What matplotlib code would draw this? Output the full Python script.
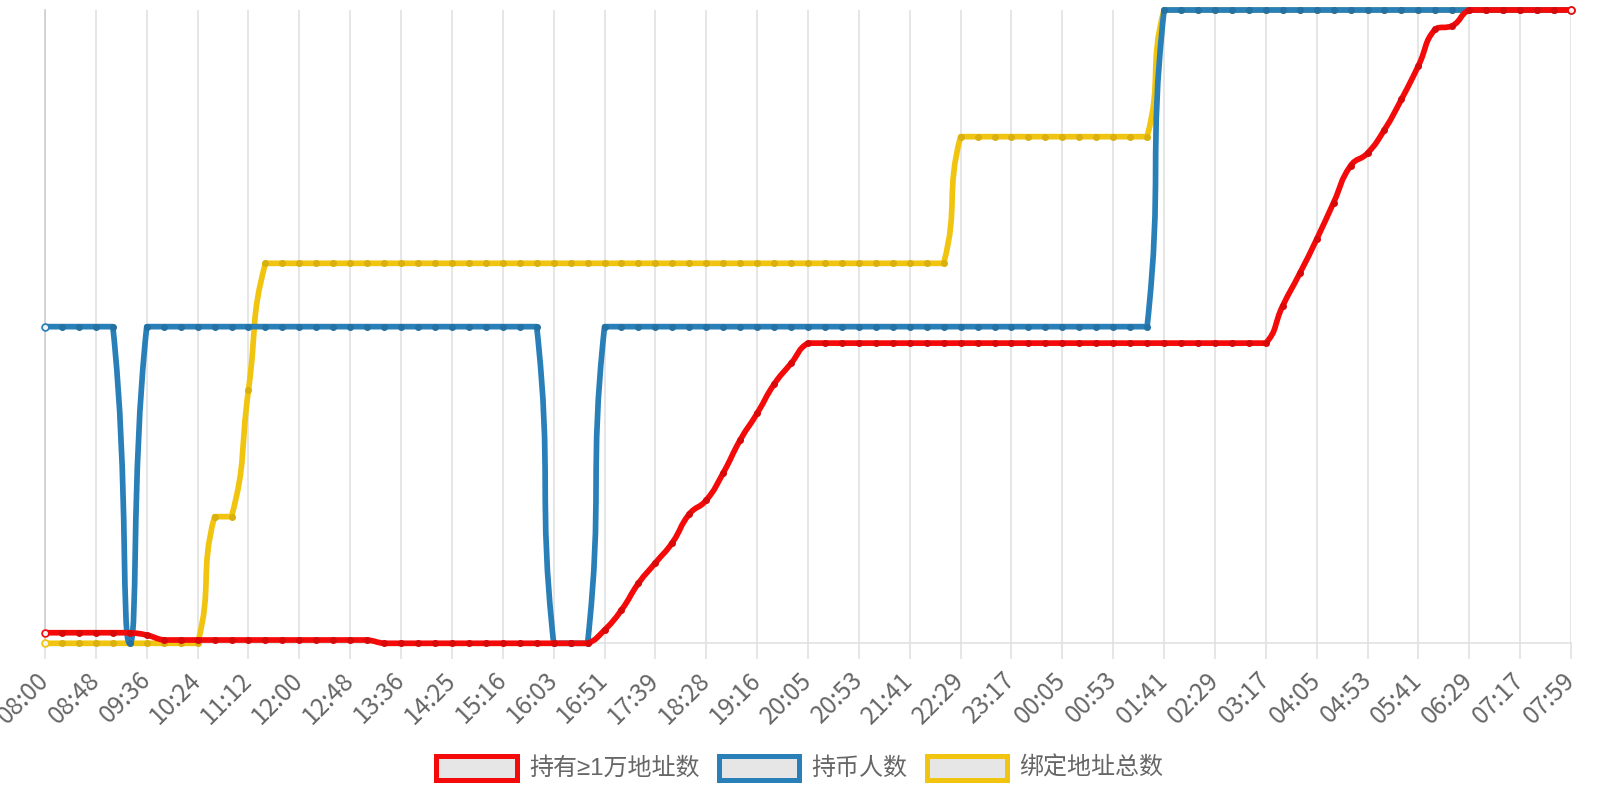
import numpy as np
import matplotlib
matplotlib.use("Agg")
import matplotlib.pyplot as plt
from matplotlib.path import Path
from matplotlib.patches import PathPatch, Rectangle

plt.rcParams['font.family'] = ['Noto Sans CJK SC', 'DejaVu Sans']

# ---------------- data ----------------
tick_labels = ["08:00", "08:48", "09:36", "10:24", "11:12", "12:00", "12:48", "13:36",
               "14:25", "15:16", "16:03", "16:51", "17:39", "18:28", "19:16", "20:05",
               "20:53", "21:41", "22:29", "23:17", "00:05", "00:53", "01:41", "02:29",
               "03:17", "04:05", "04:53", "05:41", "06:29", "07:17", "07:59"]
points_per_label = 3
n_points = 91

series_names = ["持有≥1万地址数", "持币人数", "绑定地址总数"]

holders_10k = ([1.67] * 6 + [1.3] + [0.52] * 13 + [0.0] * 13 +
               [2.1, 5.26, 9.47, 12.7, 15.9, 20.4, 22.6, 26.9, 32.1, 36.3, 40.9, 44.2] +
               [47.4] * 28 +
               [53.3, 58.4, 63.8, 69.6, 75.4, 77.4, 81.1, 85.9, 91.2, 97.0, 97.5] +
               [100.0] * 7)
holders = ([50.0] * 5 + [0.0] + [50.0] * 24 + [0.0] * 3 + [50.0] * 33 + [100.0] * 25)
bound_addr = ([0.0] * 10 + [20.0] * 2 + [40.0] + [60.0] * 41 + [80.0] * 12 + [100.0] * 25)

colors = ["#f50a0a", "#2980b9", "#f1c40f"]
dot_colors = ["#d80909", "#2471a4", "#d9b00e"]

# ---------------- figure ----------------
W, H = 1600, 800
fig = plt.figure(figsize=(16, 8), dpi=100)
left, right, top, bottom = 45, 1571, 10, 643.3
ax = fig.add_axes([left / W, 1 - bottom / H, (right - left) / W, (bottom - top) / H])
ax.set_xlim(0, n_points - 1)
ax.set_ylim(0, 100)

PX = 0.72  # points per pixel
grid_c = "#e0e0e0"
ax.set_xticks(np.arange(0, n_points, points_per_label))
ax.set_xticklabels(tick_labels)
ax.set_yticks([])
ax.grid(axis="x", color=grid_c, linewidth=1.6 * PX)
ax.tick_params(axis="x", direction="out", length=16 * PX, width=1.6 * PX,
               color=grid_c, pad=17 * PX, labelsize=24.5 * PX, labelcolor="#666666")
for lab in ax.get_xticklabels():
    lab.set_rotation(45)
    lab.set_ha("right")
    lab.set_va("center")
    lab.set_rotation_mode("anchor")
for s in ["top", "right"]:
    ax.spines[s].set_visible(False)
ax.spines["bottom"].set_color(grid_c)
ax.spines["bottom"].set_linewidth(1.6 * PX)
ax.spines["left"].set_color("#cccccc")
ax.spines["left"].set_linewidth(1.6 * PX)
ax.xaxis.get_major_ticks()[0].tick1line.set_color("#cccccc")


def clamp_box(c, a, b):
    lo = np.minimum(a, b)
    hi = np.maximum(a, b)
    return np.minimum(np.maximum(c, lo), hi)


def smooth_path(xs, ys, smooth=0.5):
    """Smoothed bezier path; each control point is kept inside its segment's box."""
    pts = ax.transData.transform(np.column_stack([xs, ys]))
    n = len(pts)
    verts = [pts[0]]
    codes = [Path.MOVETO]
    cp0 = pts[0].copy()
    for k in range(1, n):
        p = pts[k]
        prev = pts[k - 1]
        if k == n - 1:
            cp1 = p.copy()
            ncp0 = p.copy()
        else:
            nxt = pts[k + 1]
            v = nxt - prev
            lp = np.hypot(*(p - prev))
            ln = np.hypot(*(nxt - p))
            r = ln / (ln + lp)
            cp1 = clamp_box(p - v * smooth * (1 - r), prev, p)
            ncp0 = clamp_box(p + v * smooth * r, p, nxt)
        verts += [cp0, cp1, p]
        codes += [Path.CURVE4] * 3
        cp0 = ncp0
    verts = ax.transData.inverted().transform(np.array(verts))
    return Path(verts, codes)


xs = np.arange(n_points)
all_series = [holders_10k, holders, bound_addr]
draw_order = [2, 1, 0]  # yellow bottom, blue, red on top
for rank, si in enumerate(draw_order):
    ys = np.array(all_series[si], dtype=float)
    z = 3 + rank * 2
    patch = PathPatch(smooth_path(xs, ys), fill=False, edgecolor=colors[si],
                      linewidth=5.7 * PX, capstyle="round", joinstyle="round",
                      zorder=z, clip_on=False)
    ax.add_patch(patch)
    ax.plot(xs[1:-1], ys[1:-1], linestyle="none", marker="o", markersize=7 * PX,
            markerfacecolor=dot_colors[si], markeredgewidth=0, zorder=z + 1,
            clip_on=False)
    ax.plot(xs[[0, -1]], ys[[0, -1]], linestyle="none", marker="o",
            markersize=6.8 * PX, markerfacecolor="#f4f4f4",
            markeredgecolor=colors[si], markeredgewidth=1.7 * PX,
            zorder=z + 1, clip_on=False)

# ---------------- legend ----------------
leg_rects = [(433.3, 519.3), (716.0, 801.7), (924.3, 1010.0)]
leg_text_x = [529.3, 811.7, 1019.3]
ry0, ry1 = 753.3, 782.7
bw = 5.0
for (x0, x1), tx, name, c in zip(leg_rects, leg_text_x, series_names, colors):
    fig.add_artist(Rectangle(((x0 + bw / 2) / W, 1 - (ry1 - bw / 2) / H),
                             (x1 - x0 - bw) / W, (ry1 - ry0 - bw) / H,
                             transform=fig.transFigure, facecolor="#e6e6e6",
                             edgecolor=c, linewidth=bw * PX))
    fig.text(tx / W, 1 - 768 / H, name, ha="left", va="center",
             fontsize=24 * PX, color="#666666",
             family=["Liberation Sans", "Noto Sans CJK SC"])

fig.savefig("out.png", dpi=100)
